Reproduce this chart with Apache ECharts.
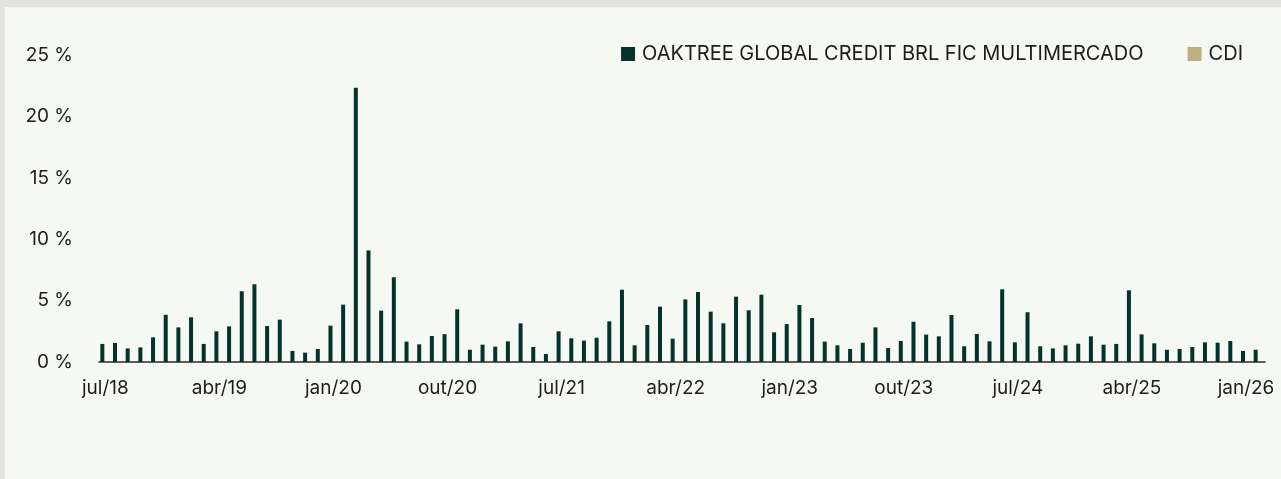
<!DOCTYPE html>
<html>
<head>
<meta charset="utf-8">
<script src="https://cdn.jsdelivr.net/npm/echarts@6/dist/echarts.min.js"></script>
<style>
html,body{margin:0;padding:0;background:#e2e2de;}
#panel{position:absolute;left:5px;top:7px;width:1276px;height:472px;background:#f6f8f4;}
#chart{position:absolute;left:0;top:0;width:1281px;height:479px;}
</style>
</head>
<body>
<div id="panel"></div>
<div id="chart"></div>
<script>
const categories = [
"jul/18","ago/18","set/18","out/18","nov/18","dez/18",
"jan/19","fev/19","mar/19","abr/19","mai/19","jun/19","jul/19","ago/19","set/19","out/19","nov/19","dez/19",
"jan/20","fev/20","mar/20","abr/20","mai/20","jun/20","jul/20","ago/20","set/20","out/20","nov/20","dez/20",
"jan/21","fev/21","mar/21","abr/21","mai/21","jun/21","jul/21","ago/21","set/21","out/21","nov/21","dez/21",
"jan/22","fev/22","mar/22","abr/22","mai/22","jun/22","jul/22","ago/22","set/22","out/22","nov/22","dez/22",
"jan/23","fev/23","mar/23","abr/23","mai/23","jun/23","jul/23","ago/23","set/23","out/23","nov/23","dez/23",
"jan/24","fev/24","mar/24","abr/24","mai/24","jun/24","jul/24","ago/24","set/24","out/24","nov/24","dez/24",
"jan/25","fev/25","mar/25","abr/25","mai/25","jun/25","jul/25","ago/25","set/25","out/25","nov/25","dez/25",
"jan/26","fev/26"
];
const fundName = "OAKTREE GLOBAL CREDIT BRL FIC MULTIMERCADO";
const cdiName = "CDI";
const fundValues = [
1.47,1.55,1.11,1.19,2.01,3.85,2.82,3.64,1.47,2.50,2.90,5.76,6.33,2.93,3.45,0.90,0.76,1.06,2.96,4.67,
22.34,9.09,4.18,6.90,1.66,1.44,2.12,2.27,4.29,1.00,1.41,1.25,1.68,3.15,1.22,0.65,2.50,1.93,1.74,1.98,
3.31,5.89,1.36,3.01,4.51,1.90,5.10,5.70,4.10,3.15,5.32,4.21,5.48,2.42,3.09,4.64,3.58,1.66,1.36,1.06,
1.57,2.82,1.14,1.71,3.28,2.23,2.09,3.83,1.28,2.28,1.68,5.92,1.60,4.05,1.28,1.11,1.36,1.49,2.09,1.41,
1.47,5.84,2.25,1.52,1.00,1.06,1.22,1.60,1.57,1.71,0.90,1.00
];
const cdiValues = [];
const yTicks = {min:0, max:25, interval:5};

const chart = echarts.init(document.getElementById('chart'), null, {renderer:'canvas'});
const FONT = 'Inter, "Noto Sans", sans-serif';
chart.setOption({
  backgroundColor: 'transparent',
  animation: false,
  textStyle: {fontFamily: FONT},
  legend: {
    right: 38, top: 44, padding: 0,
    itemWidth: 14, itemHeight: 14, itemGap: 44,
    icon: 'rect',
    textStyle: {fontSize: 20, color: '#1c1c1c', fontFamily: FONT, padding: [0,0,0,2]},
    data: [fundName, cdiName]
  },
  grid: {left: 99, right: 16, top: 55, bottom: 117, containLabel: false},
  xAxis: {
    type: 'category',
    data: categories,
    boundaryGap: true,
    axisLine: {show: true, lineStyle: {color: '#2a2a2a', width: 1.5}},
    axisTick: {show: false},
    axisLabel: {interval: 8, margin: 17, fontSize: 19, color: '#1c1c1c', fontFamily: FONT},
    splitLine: {show: false}
  },
  yAxis: {
    type: 'value',
    min: yTicks.min, max: yTicks.max, interval: yTicks.interval,
    axisLine: {show: false},
    axisTick: {show: false},
    splitLine: {show: false},
    axisLabel: {margin: 26, fontSize: 19, color: '#1c1c1c', fontFamily: FONT, formatter: '{value} %'}
  },
  series: [
    {name: fundName, type: 'bar', data: fundValues, barWidth: 4, barGap: '50%',
     itemStyle: {color: '#03332a'}},
    {name: cdiName, type: 'bar', data: cdiValues, barWidth: 4,
     itemStyle: {color: '#bdb083'}}
  ]
});
</script>
</body>
</html>
